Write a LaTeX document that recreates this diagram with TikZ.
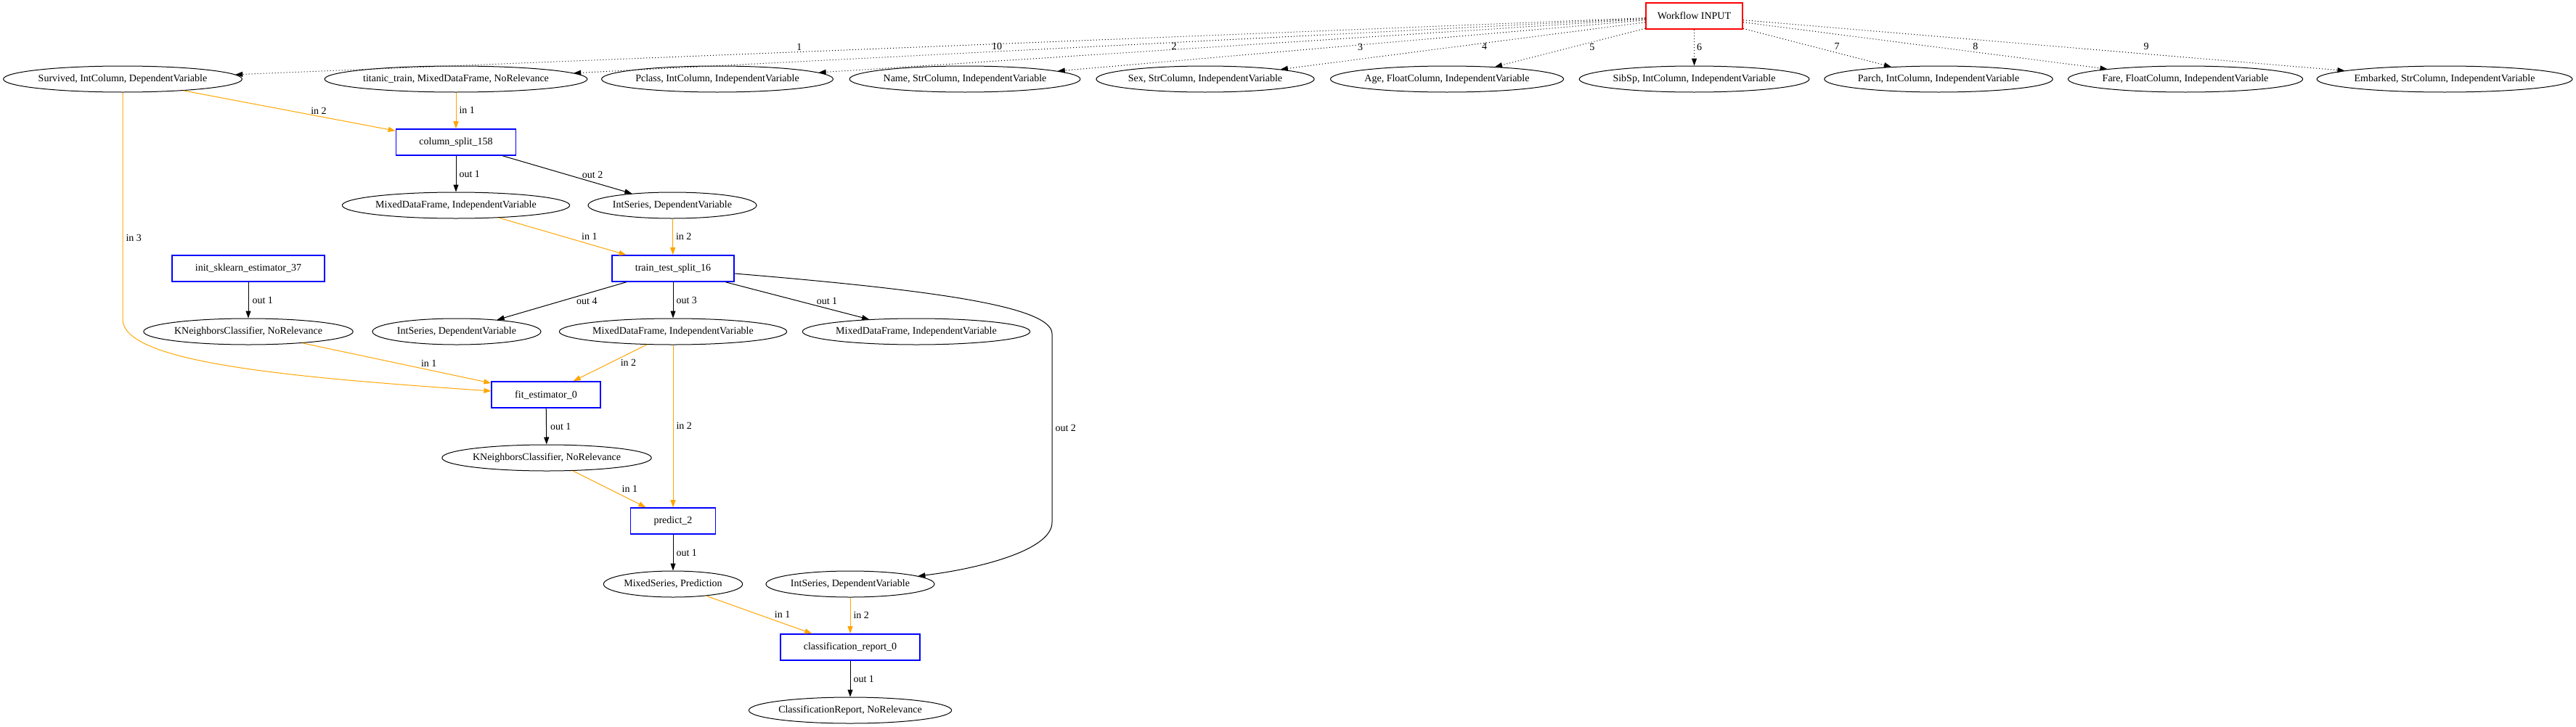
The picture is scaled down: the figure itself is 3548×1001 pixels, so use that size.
\documentclass[tikz,border=0pt]{standalone}
\usepackage{fontspec}
\setmainfont{Liberation Serif}
\usetikzlibrary{arrows.meta,shapes.geometric}
\definecolor{gvorange}{HTML}{FFA500}

\begin{document}
\begin{tikzpicture}[x=1pt,y=-1pt,font=\fontsize{14}{17}\selectfont,
    val/.style={draw,ellipse,line width=1pt,inner xsep=0pt,minimum height=36pt},
    fn/.style={draw=blue,line width=1.6pt,inner xsep=32pt,minimum height=36pt},
    src/.style={draw=red,line width=1.6pt,inner xsep=16pt,minimum height=36pt},
    outedge/.style={line width=1pt,-{Triangle[length=10pt,width=7pt]}},
    inedge/.style={outedge,draw=gvorange},
    argedge/.style={outedge,dash pattern=on 1pt off 3pt},
    lbl/.style={anchor=west,inner sep=0pt}]
  \useasboundingbox (0,0) rectangle (3548,1001);

  \node[src] (wf) at (2333.5,22) {Workflow INPUT};

  \node[val] (surv) at (169,109) {Survived, IntColumn, DependentVariable};
  \node[val] (titan) at (628,109) {titanic\_train, MixedDataFrame, NoRelevance};
  \node[val] (pcls) at (988,109) {Pclass, IntColumn, IndependentVariable};
  \node[val] (name) at (1329,109) {Name, StrColumn, IndependentVariable};
  \node[val] (sex) at (1660,109) {Sex, StrColumn, IndependentVariable};
  \node[val] (age) at (1993,109) {Age, FloatColumn, IndependentVariable};
  \node[val] (sibsp) at (2333.5,109) {SibSp, IntColumn, IndependentVariable};
  \node[val] (parch) at (2670,109) {Parch, IntColumn, IndependentVariable};
  \node[val] (fare) at (3010,109) {Fare, FloatColumn, IndependentVariable};
  \node[val] (emb) at (3367,109) {Embarked, StrColumn, IndependentVariable};

  \node[fn] (csplit) at (628,196) {column\_split\_158};
  \node[val] (mdfa) at (628,283) {MixedDataFrame, IndependentVariable};
  \node[val] (intsa) at (926,283) {IntSeries, DependentVariable};

  \node[fn] (init) at (342,370) {init\_sklearn\_estimator\_37};
  \node[fn] (tts) at (927,370) {train\_test\_split\_16};
  \node[val] (knna) at (342,457) {KNeighborsClassifier, NoRelevance};
  \node[val] (intsb) at (629,457) {IntSeries, DependentVariable};
  \node[val] (mdfb) at (927,457) {MixedDataFrame, IndependentVariable};
  \node[val] (mdfc) at (1262,457) {MixedDataFrame, IndependentVariable};

  \node[fn] (fit) at (752,544) {fit\_estimator\_0};
  \node[val] (knnb) at (753,631) {KNeighborsClassifier, NoRelevance};
  \node[fn] (pred) at (927,718) {predict\_2};
  \node[val] (mser) at (927,805) {MixedSeries, Prediction};
  \node[val] (intsc) at (1171,805) {IntSeries, DependentVariable};
  \node[fn] (crep) at (1171,892) {classification\_report\_0};
  \node[val] (crout) at (1171,979) {ClassificationReport, NoRelevance};

  \draw[argedge] (wf) -- node[pos=.6,yshift=7pt]{1} (surv);
  \draw[argedge] (wf) -- node[pos=.605,yshift=7pt]{10} (titan);
  \draw[argedge] (wf) -- node[pos=.57,yshift=4pt]{2} (pcls);
  \draw[argedge] (wf) -- node[pos=.485,yshift=-3pt]{3} (name);
  \draw[argedge] (wf) -- node[pos=.441,yshift=-5pt]{4} (sex);
  \draw[argedge] (wf) -- node[pos=.354,yshift=-7pt]{5} (age);
  \draw[argedge] (wf) -- node[lbl,pos=.48,xshift=3pt]{6} (sibsp);
  \draw[argedge] (wf) -- node[pos=.633,yshift=9pt]{7} (parch);
  \draw[argedge] (wf) -- node[pos=.638,yshift=8pt]{8} (fare);
  \draw[argedge] (wf) -- node[pos=.67,yshift=10pt]{9} (emb);

  \draw[inedge] (surv) -- node[lbl,xshift=29pt]{in 2} (csplit);
  \draw[inedge] (titan) -- node[lbl,xshift=4pt]{in 1} (csplit);
  \draw[outedge] (csplit) -- node[lbl,xshift=4pt]{out 1} (mdfa);
  \draw[outedge] (csplit) -- node[lbl,xshift=20pt]{out 2} (intsa);
  \draw[inedge] (mdfa) -- node[lbl,xshift=26pt]{in 1} (tts);
  \draw[inedge] (intsa) -- node[lbl,xshift=4pt]{in 2} (tts);
  \draw[outedge] (init) -- node[lbl,xshift=5pt]{out 1} (knna);
  \draw[outedge] (tts) -- node[lbl,xshift=20pt]{out 4} (intsb);
  \draw[outedge] (tts) -- node[lbl,xshift=4pt]{out 3} (mdfb);
  \draw[outedge] (tts) -- node[lbl,xshift=26pt]{out 1} (mdfc);
  \draw[outedge] ([yshift=-7pt]tts.east) .. controls (1262,398) and (1449,420) .. (1449,460)
    -- node[lbl,xshift=4pt]{out 2} (1449,720) .. controls (1449,760) and (1340,785) .. (intsc);
  \draw[inedge] (surv) -- node[lbl,pos=.64,xshift=4pt]{in 3} (169,440)
    .. controls (169,500) and (400,520) .. ([yshift=5pt]fit.west);
  \draw[inedge] (knna) -- node[lbl,xshift=33pt]{in 1} (fit);
  \draw[inedge] (mdfb) -- node[lbl,xshift=14pt]{in 2} (fit);
  \draw[outedge] (fit) -- node[lbl,xshift=5pt]{out 1} (knnb);
  \draw[inedge] (knnb) -- node[lbl,xshift=17pt]{in 1} (pred);
  \draw[inedge] (mdfb) -- node[lbl,xshift=4pt]{in 2} (pred);
  \draw[outedge] (pred) -- node[lbl,xshift=4pt]{out 1} (mser);
  \draw[inedge] (mser) -- node[lbl,xshift=21pt]{in 1} (crep);
  \draw[inedge] (intsc) -- node[lbl,xshift=4pt]{in 2} (crep);
  \draw[outedge] (crep) -- node[lbl,xshift=4pt]{out 1} (crout);
\end{tikzpicture}
\end{document}
